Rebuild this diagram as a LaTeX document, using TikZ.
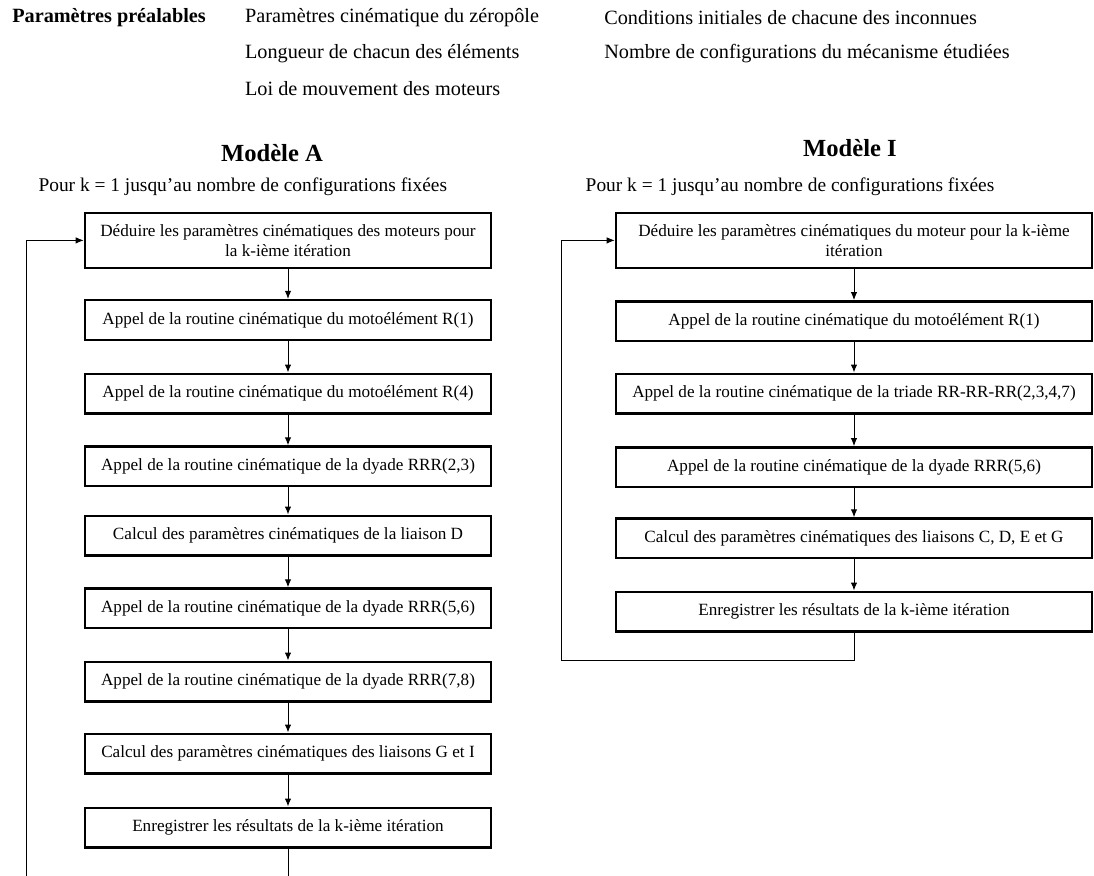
\documentclass[tikz,border=0pt]{standalone}
\usepackage{fontspec}
\setmainfont{Liberation Serif}
\usetikzlibrary{positioning,arrows.meta}

\begin{document}
\begin{tikzpicture}[
	stepbox/.style={draw, line width=1.8pt, rectangle, text centered, align=center,
	inner sep=2pt, font=\fontsize{12.2}{14}\selectfont},
	flow/.style={-{Latex[length=2mm,width=1.6mm]}, line width=0.7pt},
	loop/.style={-{Latex[length=2mm,width=1.6mm]}, line width=0.6pt},
	header/.style={anchor=west, inner sep=0pt, font=\fontsize{14.4}{17}\selectfont}]

	\useasboundingbox (0,0) rectangle (27.35,-21.9);

	%Parametres prealables
	\node (prealables) at (0.3,-0.45) [header, font=\fontsize{14.4}{17}\selectfont\bfseries]{Paramètres préalables};
	\node (zeropole) at (6.12,-0.45) [header]{Paramètres cinématique du zéropôle};
	\node (longueur) at (6.12,-1.33) [header]{Longueur de chacun des éléments};
	\node (loiMoteurs) at (6.12,-2.22) [header]{Loi de mouvement des moteurs};
	\node (conditions) at (15.1,-0.45) [header]{Conditions initiales de chacune des inconnues};
	\node (nombreConfig) at (15.1,-1.33) [header]{Nombre de configurations du mécanisme étudiées};

	%Titles
	\node (titreA) at (6.8,-3.83) [font=\fontsize{17.5}{20}\selectfont\bfseries]{Modèle A};
	\node (titreI) at (21.25,-3.7) [font=\fontsize{17.5}{20}\selectfont\bfseries]{Modèle I};
	\node (pourA) at (6.07,-4.67) [font=\fontsize{13.8}{16}\selectfont]{Pour k = 1 jusqu'au nombre de configurations fixées};
	\node (pourI) at (19.75,-4.67) [font=\fontsize{13.8}{16}\selectfont]{Pour k = 1 jusqu'au nombre de configurations fixées};

	%Modele A blocks
	\node (deduireA) at (7.2,-6.01) [stepbox, minimum width=10.15cm, minimum height=1.375cm]{Déduire les paramètres cinématiques des moteurs pour\\ la k-ième itération};
	\node (motoA1) at (7.2,-8.0) [stepbox, minimum width=10.15cm, minimum height=0.99cm]{Appel de la routine cinématique du motoélément R(1)};
	\node (motoA4) at (7.2,-9.84) [stepbox, minimum width=10.15cm, minimum height=0.99cm]{Appel de la routine cinématique du motoélément R(4)};
	\node (dyadeA23) at (7.2,-11.66) [stepbox, minimum width=10.15cm, minimum height=0.99cm]{Appel de la routine cinématique de la dyade RRR(2,3)};
	\node (liaisonD) at (7.2,-13.39) [stepbox, minimum width=10.15cm, minimum height=0.99cm]{Calcul des paramètres cinématiques de la liaison D};
	\node (dyadeA56) at (7.2,-15.21) [stepbox, minimum width=10.15cm, minimum height=0.99cm]{Appel de la routine cinématique de la dyade RRR(5,6)};
	\node (dyadeA78) at (7.2,-17.04) [stepbox, minimum width=10.15cm, minimum height=0.99cm]{Appel de la routine cinématique de la dyade RRR(7,8)};
	\node (liaisonsGI) at (7.2,-18.84) [stepbox, minimum width=10.15cm, minimum height=0.99cm]{Calcul des paramètres cinématiques des liaisons G et I};
	\node (enregA) at (7.2,-20.69) [stepbox, minimum width=10.15cm, minimum height=0.99cm]{Enregistrer les résultats de la k-ième itération};

	%Modele I blocks
	\node (deduireI) at (21.35,-6.01) [stepbox, minimum width=11.9cm, minimum height=1.375cm]{Déduire les paramètres cinématiques du moteur pour la k-ième\\ itération};
	\node (motoI1) at (21.35,-8.03) [stepbox, minimum width=11.9cm, minimum height=0.99cm]{Appel de la routine cinématique du motoélément R(1)};
	\node (triade) at (21.35,-9.84) [stepbox, minimum width=11.9cm, minimum height=0.99cm]{Appel de la routine cinématique de la triade RR-RR-RR(2,3,4,7)};
	\node (dyadeI56) at (21.35,-11.68) [stepbox, minimum width=11.9cm, minimum height=0.99cm]{Appel de la routine cinématique de la dyade RRR(5,6)};
	\node (liaisonsCDEG) at (21.35,-13.46) [stepbox, minimum width=11.9cm, minimum height=0.99cm]{Calcul des paramètres cinématiques des liaisons C, D, E et G};
	\node (enregI) at (21.35,-15.29) [stepbox, minimum width=11.9cm, minimum height=0.99cm]{Enregistrer les résultats de la k-ième itération};

	%Links among blocks
	\foreach \a/\b in {deduireA/motoA1, motoA1/motoA4, motoA4/dyadeA23, dyadeA23/liaisonD,
		liaisonD/dyadeA56, dyadeA56/dyadeA78, dyadeA78/liaisonsGI, liaisonsGI/enregA,
		deduireI/motoI1, motoI1/triade, triade/dyadeI56, dyadeI56/liaisonsCDEG, liaisonsCDEG/enregI}
		\draw[flow] (\a.south) -- (\b.north);

	%Loops back to the first block
	\coordinate (basA) at (7.2,-22.4);
	\coordinate (coinA) at (0.65,-22.4);
	\draw[loop] (enregA.south) -- (basA) -- (coinA) |- (deduireA.west);
	\coordinate (basI) at (21.35,-16.5);
	\coordinate (coinI) at (14.03,-16.5);
	\draw[loop] (enregI.south) -- (basI) -- (coinI) |- (deduireI.west);

\end{tikzpicture}
\end{document}
